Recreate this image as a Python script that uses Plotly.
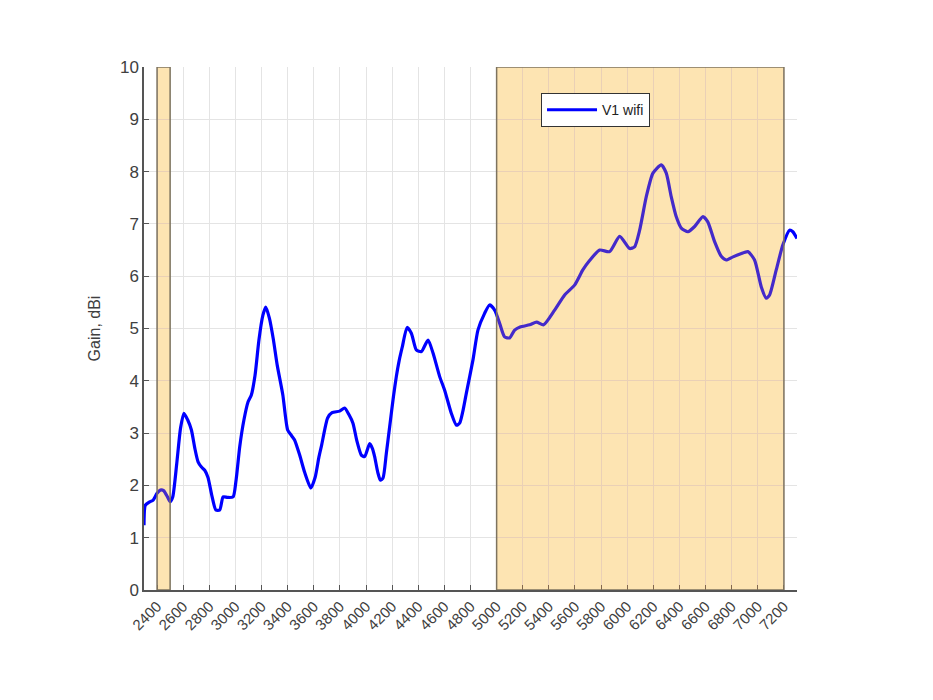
import plotly.graph_objects as go

# frequency (MHz) and gain (dBi)
freq = [2300, 2310, 2340, 2370, 2400, 2425, 2450, 2480, 2500, 2520, 2550, 2580, 2606, 2635,
        2663, 2690, 2714, 2740, 2765, 2790, 2820, 2850, 2880, 2906, 2940, 2982, 3005, 3033,
        3065, 3097, 3122, 3150, 3180, 3210, 3232, 3260, 3290, 3320, 3363, 3400, 3430, 3453,
        3492, 3530, 3577, 3610, 3640, 3660, 3706, 3740, 3798, 3836, 3870, 3900, 3930, 3964,
        3990, 4028, 4050, 4066, 4090, 4110, 4130, 4155, 4181, 4210, 4232, 4255, 4278, 4314,
        4347, 4385, 4424, 4475, 4513, 4564, 4602, 4653, 4692, 4717, 4740, 4768, 4819, 4857,
        4908, 4946, 4985, 5023, 5061, 5100, 5138, 5180, 5253, 5306, 5360, 5444, 5521, 5597,
        5660, 5712, 5789, 5865, 5942, 6018, 6056, 6095, 6146, 6197, 6261, 6299, 6337, 6375,
        6414, 6465, 6516, 6580, 6617, 6669, 6720, 6758, 6810, 6870, 6924, 6975, 7026, 7064,
        7090, 7141, 7192, 7243, 7268, 7300]
gain = [1.24, 1.62, 1.68, 1.72, 1.85, 1.91, 1.90, 1.78, 1.69, 1.78, 2.40, 3.10, 3.38, 3.25,
        3.06, 2.70, 2.45, 2.35, 2.29, 2.15, 1.80, 1.53, 1.53, 1.78, 1.77, 1.78, 2.10, 2.74,
        3.25, 3.60, 3.73, 4.10, 4.78, 5.25, 5.41, 5.20, 4.80, 4.30, 3.73, 3.06, 2.95, 2.87,
        2.58, 2.25, 1.95, 2.15, 2.55, 2.77, 3.29, 3.39, 3.42, 3.48, 3.35, 3.19, 2.85, 2.58,
        2.55, 2.80, 2.70, 2.55, 2.25, 2.10, 2.14, 2.60, 3.12, 3.70, 4.08, 4.40, 4.65, 5.02,
        4.91, 4.59, 4.56, 4.78, 4.53, 4.08, 3.82, 3.38, 3.15, 3.19, 3.40, 3.76, 4.40, 4.97,
        5.29, 5.45, 5.35, 5.10, 4.84, 4.82, 4.97, 5.03, 5.07, 5.12, 5.07, 5.35, 5.64, 5.83,
        6.12, 6.30, 6.50, 6.47, 6.76, 6.53, 6.56, 6.88, 7.52, 7.97, 8.13, 7.97, 7.52, 7.14,
        6.92, 6.85, 6.95, 7.14, 7.04, 6.66, 6.38, 6.31, 6.37, 6.43, 6.47, 6.31, 5.80, 5.58,
        5.64, 6.12, 6.60, 6.88, 6.85, 6.72]

# wifi bands (MHz)
bands = [(2400, 2500), (5000, 7200)]
x_ticks = list(range(2400, 7201, 200))

fig = go.Figure()
fig.add_trace(go.Scatter(
    x=freq, y=gain, mode="lines", name="V1 wifi",
    line=dict(color="rgb(0,0,255)", width=3.2, shape="spline", smoothing=0.6),
))

for x0, x1 in bands:
    # opaque pale base under the grid, then a translucent tint over the line
    fig.add_shape(
        type="rect", xref="x", yref="y", x0=x0, x1=x1, y0=0, y1=10,
        fillcolor="rgb(254,255,222)", layer="below", line_width=0,
    )
    fig.add_shape(
        type="rect", xref="x", yref="y", x0=x0, x1=x1, y0=0, y1=10,
        fillcolor="rgba(250,155,60,0.27)", layer="above",
        line=dict(color="rgb(125,115,95)", width=1.5),
    )

fig.update_layout(
    width=933, height=700,
    paper_bgcolor="white", plot_bgcolor="white",
    margin=dict(l=136, r=144, t=59, b=118),
    font=dict(family="Liberation Sans, Arial, sans-serif", color="#404040"),
    legend=dict(
        x=0.608, y=0.95, xanchor="left", yanchor="top",
        bgcolor="white", bordercolor="#333333", borderwidth=1,
        font=dict(size=14, color="#222222"), itemwidth=50,
    ),
    showlegend=True,
)
fig.update_xaxes(
    range=[2300, 7300], tickvals=x_ticks, tickangle=-45,
    tickfont=dict(size=15), showgrid=True, gridcolor="#e4e4e4", gridwidth=1,
    showline=True, linecolor="#555555", linewidth=1.5,
    ticks="inside", ticklen=5, tickcolor="#555555", zeroline=False,
)
fig.update_yaxes(
    range=[0, 10], dtick=1, title=dict(text="Gain, dBi", font=dict(size=16)),
    tickfont=dict(size=17), showgrid=True, gridcolor="#e4e4e4", gridwidth=1,
    showline=True, linecolor="#555555", linewidth=1.5,
    ticks="inside", ticklen=5, tickcolor="#555555", zeroline=False,
)

fig.write_html("out.html")
